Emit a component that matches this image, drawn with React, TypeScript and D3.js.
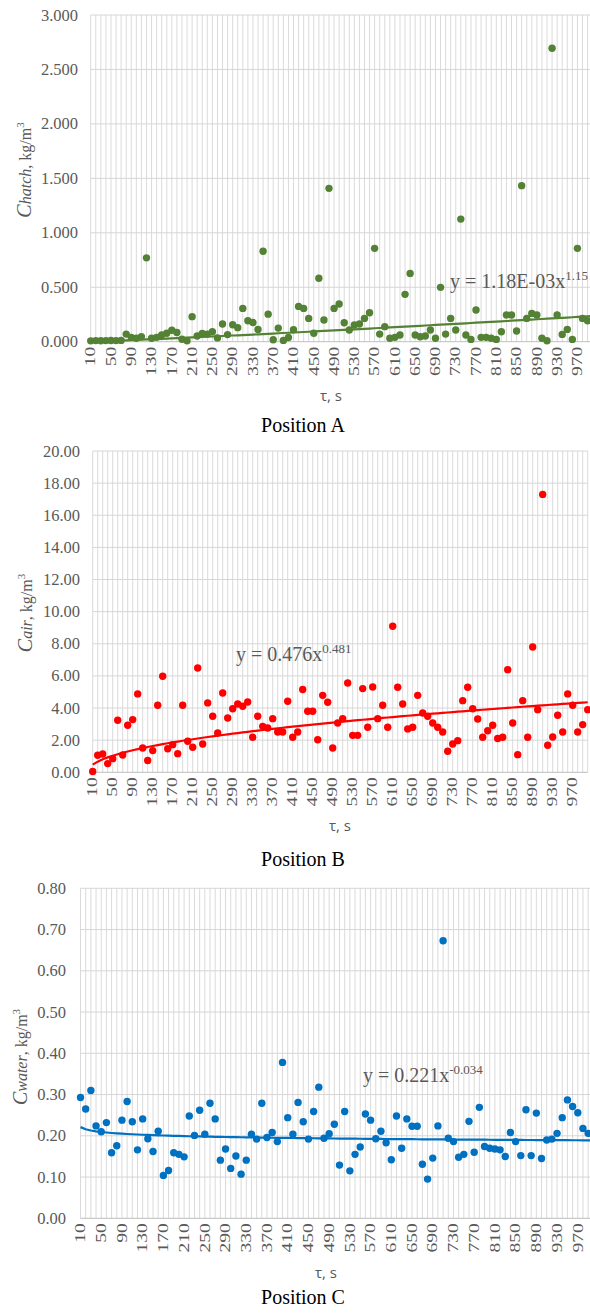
import React from 'react';
import * as d3 from 'd3';

// ---------- DATA ----------
const TAU: number[] = d3.range(10, 1010, 10); // categories 10..1000 s

const C_HATCH: number[] = [
  0.008, 0.010, 0.009, 0.010, 0.011, 0.010, 0.012, 0.070, 0.040, 0.031,
  0.046, 0.770, 0.031, 0.040, 0.061, 0.077, 0.105, 0.085, 0.022, 0.008,
  0.230, 0.052, 0.075, 0.070, 0.092, 0.035, 0.162, 0.065, 0.156, 0.129,
  0.306, 0.193, 0.176, 0.113, 0.830, 0.253, 0.018, 0.125, 0.012, 0.038,
  0.110, 0.324, 0.306, 0.214, 0.077, 0.582, 0.199, 1.408, 0.306, 0.346,
  0.174, 0.107, 0.153, 0.162, 0.214, 0.266, 0.857, 0.070, 0.138, 0.031,
  0.040, 0.061, 0.435, 0.627, 0.061, 0.046, 0.052, 0.107, 0.031, 0.499,
  0.070, 0.214, 0.107, 1.126, 0.061, 0.021, 0.291, 0.040, 0.040, 0.031,
  0.021, 0.092, 0.245, 0.245, 0.098, 1.433, 0.214, 0.260, 0.245, 0.031,
  0.009, 2.694, 0.245, 0.067, 0.113, 0.021, 0.857, 0.214, 0.193,
];

const C_AIR: number[] = [
  0.05, 1.06, 1.14, 0.54, 0.85, 3.24, 1.08, 2.93, 3.28, 4.88,
  1.51, 0.73, 1.35, 4.17, 5.98, 1.47, 1.72, 1.16, 4.17, 1.93,
  1.56, 6.49, 1.76, 4.32, 3.49, 2.45, 4.94, 3.38, 3.96, 4.25,
  4.11, 4.38, 2.18, 3.49, 2.86, 2.76, 3.34, 2.51, 2.51, 4.42,
  2.18, 2.51, 5.15, 3.80, 3.80, 2.03, 4.79, 4.36, 1.51, 3.07,
  3.34, 5.56, 2.30, 2.30, 5.21, 2.80, 5.31, 3.34, 4.17, 2.80,
  9.09, 5.29, 4.25, 2.70, 2.80, 4.79, 3.69, 3.49, 3.07, 2.80,
  2.51, 1.31, 1.76, 1.97, 4.46, 5.29, 3.96, 3.32, 2.18, 2.59,
  2.93, 2.10, 2.18, 6.39, 3.07, 1.10, 4.46, 2.18, 7.80, 3.90,
  17.30, 1.68, 2.20, 3.55, 2.51, 4.88, 4.17, 2.51, 2.97, 3.90,
];

const C_WATER: number[] = [
  0.293, 0.265, 0.310, 0.224, 0.210, 0.232, 0.159, 0.176, 0.238, 0.283,
  0.234, 0.166, 0.241, 0.193, 0.162, 0.211, 0.104, 0.116, 0.159, 0.155,
  0.149, 0.248, 0.201, 0.262, 0.204, 0.279, 0.241, 0.141, 0.168, 0.121,
  0.151, 0.107, 0.141, 0.204, 0.192, 0.279, 0.196, 0.208, 0.186, 0.378,
  0.244, 0.204, 0.281, 0.234, 0.192, 0.259, 0.318, 0.194, 0.205, 0.228,
  0.129, 0.259, 0.115, 0.155, 0.173, 0.253, 0.238, 0.193, 0.211, 0.183,
  0.142, 0.248, 0.170, 0.241, 0.223, 0.223, 0.131, 0.095, 0.146, 0.224,
  0.673, 0.194, 0.186, 0.148, 0.155, 0.235, 0.160, 0.269, 0.174, 0.170,
  0.168, 0.166, 0.150, 0.208, 0.186, 0.152, 0.263, 0.152, 0.255, 0.145,
  0.190, 0.192, 0.206, 0.244, 0.287, 0.271, 0.256, 0.218, 0.206,
];

const HATCH_TICKS = [0, 0.5, 1, 1.5, 2, 2.5, 3];
const AIR_TICKS = [0, 2, 4, 6, 8, 10, 12, 14, 16, 18, 20];
const WATER_TICKS = [0, 0.1, 0.2, 0.3, 0.4, 0.5, 0.6, 0.7, 0.8];

const HATCH_FIT = { a: 1.18e-3, b: 1.15, text: '1.18E-03x', sup: '1.15' };
const AIR_FIT = { a: 0.476, b: 0.481, text: '0.476x', sup: '0.481' };
const WATER_FIT = { a: 0.221, b: -0.034, text: '0.221x', sup: '-0.034' };

// ---------- LAYOUT ----------
const W = 590;
const H = 1313;
const GRID = '#d6d6d6';
const AXIS = '#bfbfbf';
const TXT = '#595959';
const SERIF = '"Liberation Serif", "Times New Roman", serif';
const SANS = '"Open Sans", "Noto Sans", sans-serif';

interface PanelProps {
  values: number[];
  ticks: number[];
  fmt: string;
  fit: { a: number; b: number; text: string; sup: string };
  color: string;
  left: number;
  step: number;
  top: number;
  bottom: number;
  yTickRight: number;
  sub: string;
  yTitle: [number, number];
  xTitle: [number, number];
  caption: [number, number, string];
  eq: [number, number];
}

function Panel(p: PanelProps) {
  const x = d3
    .scalePoint<number>()
    .domain(TAU)
    .range([p.left, p.left + p.step * (TAU.length - 1)]);
  const yMax = p.ticks[p.ticks.length - 1];
  const y = d3.scaleLinear().domain([0, yMax]).range([p.bottom, p.top]);
  const right = x(TAU[TAU.length - 1]) as number;
  const f = d3.format(p.fmt);
  const line = d3
    .line<number>()
    .x((_, i) => x(TAU[i]) as number)
    .y((_, i) => y(p.fit.a * Math.pow(i + 1, p.fit.b)));
  const trend = line(TAU);
  const labelCats = TAU.filter((_, i) => i % 4 === 0 && TAU[i] < 1000);

  return (
    <g>
      {TAU.map((t) => (
        <line key={'v' + t} x1={x(t)} x2={x(t)} y1={p.top} y2={p.bottom} stroke={GRID} strokeWidth={0.9} />
      ))}
      {p.ticks.map((t) => (
        <line key={'h' + t} x1={p.left} x2={right} y1={y(t)} y2={y(t)} stroke={t === 0 ? AXIS : GRID} strokeWidth={1} />
      ))}
      {p.ticks.map((t) => (
        <text key={'yl' + t} x={p.yTickRight} y={y(t)} textAnchor="end" dominantBaseline="central"
          fontFamily={SERIF} fontSize={16.5} fill={TXT}>
          {f(t)}
        </text>
      ))}
      {labelCats.map((t) => (
        <text key={'xl' + t} transform={`translate(${x(t)},${p.bottom + 5}) rotate(-90) scale(1.3,1)`}
          textAnchor="end" dominantBaseline="central" fontFamily={SERIF} fontSize={15} fill={TXT}>
          {t}
        </text>
      ))}
      <path d={trend || ''} fill="none" stroke={p.color} strokeWidth={2.2} />
      {p.values.map((v, i) => (
        <circle key={'c' + i} cx={x(TAU[i])} cy={y(v)} r={3.7} fill={p.color} />
      ))}
      <text x={p.eq[0]} y={p.eq[1]} fontFamily={SERIF} fontSize={20} fill={TXT}>
        {'y = ' + p.fit.text}
        <tspan fontSize={13} dy={-8}>{p.fit.sup}</tspan>
      </text>
      <text transform={`translate(${p.yTitle[0]},${p.yTitle[1]}) rotate(-90)`} textAnchor="middle"
        fontFamily={SERIF} fill={TXT}>
        <tspan fontSize={20} fontStyle="italic">C</tspan>
        <tspan fontSize={16} fontStyle="italic">{p.sub}</tspan>
        <tspan fontSize={16}>, kg/m</tspan>
        <tspan fontSize={11} dy={-7}>3</tspan>
      </text>
      <text x={p.xTitle[0]} y={p.xTitle[1]} textAnchor="middle" fontFamily={SANS} fontSize={15} fill={TXT}>
        τ, s
      </text>
      <text x={p.caption[0]} y={p.caption[1]} textAnchor="middle" fontFamily={SERIF} fontSize={20} fill="#000">
        {p.caption[2]}
      </text>
    </g>
  );
}

export default function App() {
  return (
    <svg width={W} height={H} style={{ position: 'absolute', left: 0, top: 0, background: '#fff' }}>
      <rect width={W} height={H} fill="#fff" />
      <Panel values={C_HATCH} ticks={HATCH_TICKS} fmt=".3f" fit={HATCH_FIT} color="#548235"
        left={90.7} step={5.07} top={15} bottom={341.7} yTickRight={78} sub="hatch"
        yTitle={[31, 170]} xTitle={[331, 401]} caption={[303, 432, 'Position A']} eq={[450, 288]} />
      <Panel values={C_AIR} ticks={AIR_TICKS} fmt=".2f" fit={AIR_FIT} color="#ff0000"
        left={92.7} step={5.0} top={451} bottom={772.3} yTickRight={80} sub="air"
        yTitle={[32, 613]} xTitle={[340, 831]} caption={[303, 866, 'Position B']} eq={[236, 661]} />
      <Panel values={C_WATER} ticks={WATER_TICKS} fmt=".2f" fit={WATER_FIT} color="#0070c0"
        left={80.5} step={5.18} top={888.3} bottom={1218.3} yTickRight={66} sub="water"
        yTitle={[27, 1057]} xTitle={[326, 1278]} caption={[303, 1304, 'Position C']} eq={[363, 1082]} />
    </svg>
  );
}
